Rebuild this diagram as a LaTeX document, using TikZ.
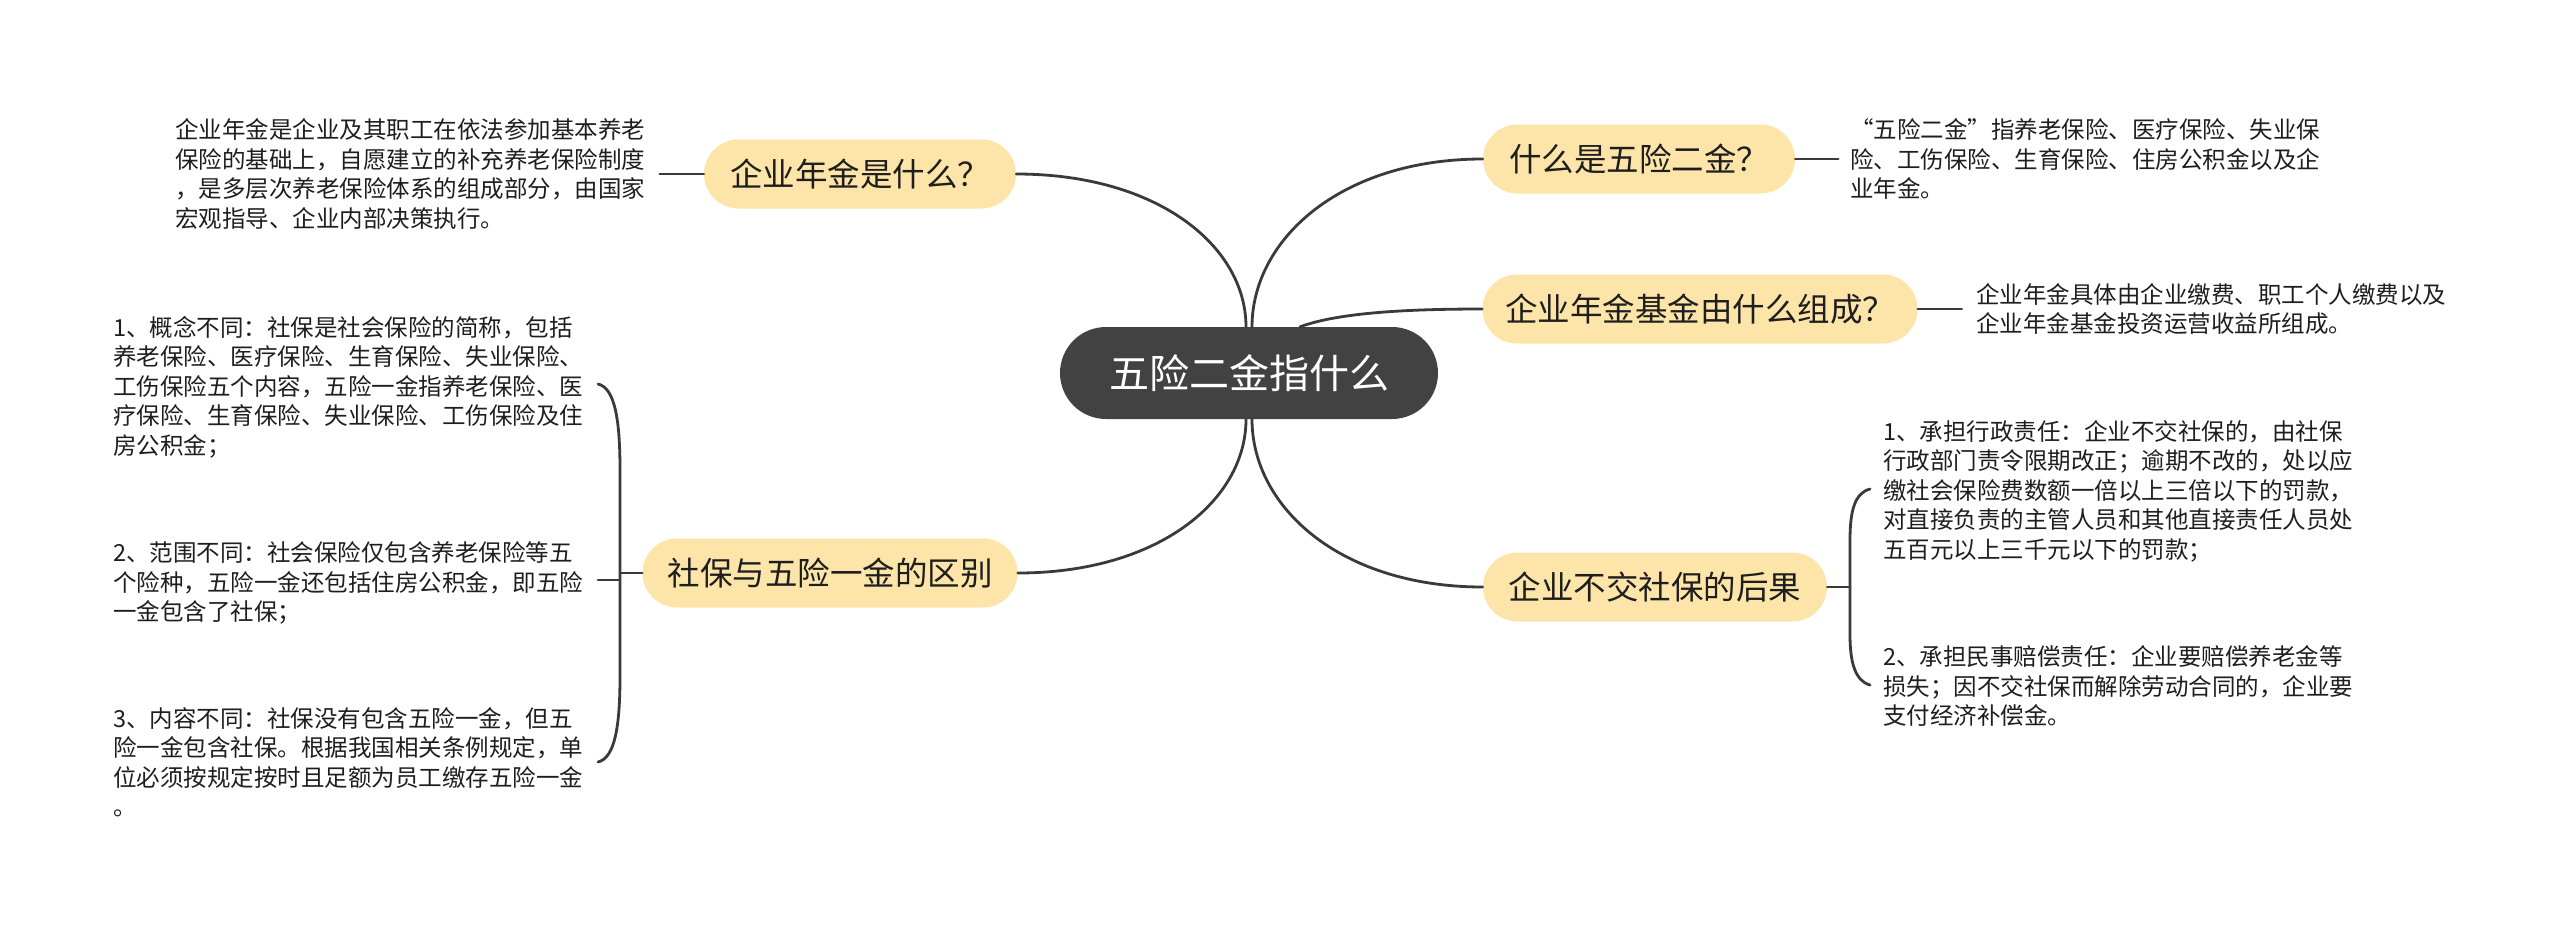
\documentclass[tikz,border=0pt]{standalone}
\usepackage{fontspec}
\setmainfont{Noto Sans CJK SC}
\definecolor{rootgray}{RGB}{66,66,66}
\definecolor{topicfill}{RGB}{253,228,168}
\definecolor{ink}{RGB}{30,30,30}
\definecolor{wire}{RGB}{58,58,58}
\tikzset{
  root/.style={fill=rootgray, text=white, rounded corners=46pt, minimum width=378pt, minimum height=92pt, inner sep=0pt, font=\fontsize{40}{48}\selectfont},
  topic/.style={fill=topicfill, text=ink, rounded corners=34.5pt, minimum height=69pt, inner sep=0pt, font=\fontsize{32.5}{40}\selectfont},
  desc/.style={text=ink, align=left, inner sep=0pt, anchor=west, font=\fontsize{23.5}{29.5}\selectfont},
  conn/.style={draw=wire, line width=2.8pt, line cap=round}
}
\begin{document}
\begin{tikzpicture}[x=1pt, y=-1pt]
\useasboundingbox (0,0) rectangle (2560,935);

% central and main topics
\node[root] (root) at (1249,373) {五险二金指什么};
\node[topic, minimum width=312pt] (t1) at (860,174) {企业年金是什么？};
\node[topic, minimum width=375pt] (t2) at (830,573) {社保与五险一金的区别};
\node[topic, minimum width=312pt] (t3) at (1639,159) {什么是五险二金？};
\node[topic, minimum width=435pt] (t4) at (1700,309) {企业年金基金由什么组成？};
\node[topic, minimum width=344pt] (t5) at (1655,587) {企业不交社保的后果};

% descriptions
\node[desc] (d1) at (175,174) {企业年金是企业及其职工在依法参加基本养老\\保险的基础上，自愿建立的补充养老保险制度\\，是多层次养老保险体系的组成部分，由国家\\宏观指导、企业内部决策执行。};
\node[desc] (d2a) at (113,387) {1、概念不同：社保是社会保险的简称，包括\\养老保险、医疗保险、生育保险、失业保险、\\工伤保险五个内容，五险一金指养老保险、医\\疗保险、生育保险、失业保险、工伤保险及住\\房公积金；};
\node[desc] (d2b) at (113,583) {2、范围不同：社会保险仅包含养老保险等五\\个险种，五险一金还包括住房公积金，即五险\\一金包含了社保；};
\node[desc] (d2c) at (113,762) {3、内容不同：社保没有包含五险一金，但五\\险一金包含社保。根据我国相关条例规定，单\\位必须按规定按时且足额为员工缴存五险一金\\。};
\node[desc] (d3) at (1850,159) {“五险二金”指养老保险、医疗保险、失业保\\险、工伤保险、生育保险、住房公积金以及企\\业年金。};
\node[desc] (d4) at (1976,309) {企业年金具体由企业缴费、职工个人缴费以及\\企业年金基金投资运营收益所组成。};
\node[desc] (d5a) at (1883,491) {1、承担行政责任：企业不交社保的，由社保\\行政部门责令限期改正；逾期不改的，处以应\\缴社会保险费数额一倍以上三倍以下的罚款，\\对直接负责的主管人员和其他直接责任人员处\\五百元以上三千元以下的罚款；};
\node[desc] (d5b) at (1883,686) {2、承担民事赔偿责任：企业要赔偿养老金等\\损失；因不交社保而解除劳动合同的，企业要\\支付经济补偿金。};

% branch connectors
\draw[conn] (t1.east) .. controls (1159,174) and (1246,247) .. ([xshift=-3pt]root.north);
\draw[conn] ([xshift=3pt]root.north) .. controls (1252,240) and (1340,159) .. (t3.west);
\draw[conn] ([xshift=51pt]root.north) .. controls (1335,314) and (1395,309) .. (t4.west);
\draw[conn] (t2.east) .. controls (1159,573) and (1246,500) .. ([xshift=-3pt]root.south);
\draw[conn] ([xshift=3pt]root.south) .. controls (1252,507) and (1340,587) .. (t5.west);

% description connectors
\draw[conn] (t1.west) -- ++(-44,0);
\draw[conn] (t3.east) -- ++(43,0);
\draw[conn] (t4.east) -- ++(44,0);

% left brace
\coordinate (lb) at (620,573);
\draw[conn] (t2.west) -- (lb);
\draw[conn] (598,384) .. controls (615,388) and (620,420) .. (620,470) -- (620,676) .. controls (620,726) and (615,758) .. (598,762);
\draw[conn] (620,580) -- (598,580);

% right brace
\coordinate (rb) at (1850,587);
\draw[conn] (t5.east) -- (rb);
\draw[conn] (1870,489) .. controls (1855,493) and (1850,510) .. (1850,540) -- (1850,635) .. controls (1850,662) and (1855,681) .. (1870,685);
\end{tikzpicture}
\end{document}
